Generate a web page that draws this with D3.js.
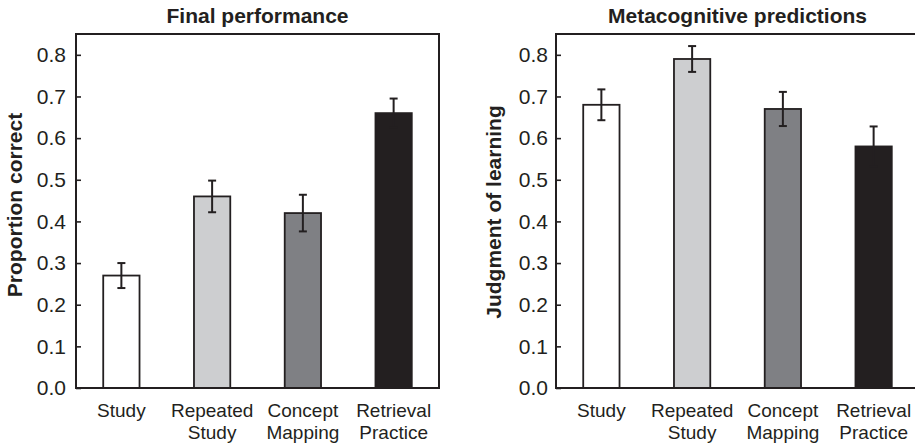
<!DOCTYPE html>
<html>
<head>
<meta charset="utf-8">
<script src="https://cdn.jsdelivr.net/npm/d3@7"></script>
<style>
  html, body { margin: 0; padding: 0; background: #fff; }
  svg { display: block; }
  text { font-family: "Liberation Sans", Arial, Helvetica, sans-serif; fill: #231f20; }
</style>
</head>
<body>
<svg id="chart" width="915" height="447"></svg>
<script>
const categories = ["Study", "Repeated Study", "Concept Mapping", "Retrieval Practice"];
const categoryLines = [["Study"], ["Repeated", "Study"], ["Concept", "Mapping"], ["Retrieval", "Practice"]];
const barColors = ["#ffffff", "#cdced0", "#7f8084", "#231f20"];
const yTicks = [0, 0.1, 0.2, 0.3, 0.4, 0.5, 0.6, 0.7, 0.8];

const finalValues = [0.27, 0.46, 0.42, 0.66];
const finalErrors = [0.03, 0.038, 0.044, 0.035];

const jolValues = [0.68, 0.79, 0.67, 0.58];
const jolErrors = [0.037, 0.031, 0.041, 0.048];

const panels = [
  { title: "Final performance", ylabel: "Proportion correct", values: finalValues, errors: finalErrors,
    left: 76, ylabelX: 22, ylabelY: 205, tickPad: 10, rightBorder: true },
  { title: "Metacognitive predictions", ylabel: "Judgment of learning", values: jolValues, errors: jolErrors,
    left: 556, ylabelX: 501, ylabelY: 212, tickPad: 8, rightBorder: false }
];

const svg = d3.select("#chart");
const plotTop = 34, plotBottom = 388, plotW = 363;
const ink = "#231f20";

const y = d3.scaleLinear().domain([0, 0.85]).range([plotBottom, plotTop]);

panels.forEach(p => {
  const g = svg.append("g");
  const x = d3.scaleBand().domain(categories).range([p.left, p.left + plotW])
    .paddingInner(0.6).paddingOuter(0.3);

  // bars
  g.selectAll("rect.bar").data(categories).join("rect")
    .attr("class", "bar")
    .attr("x", d => x(d))
    .attr("width", x.bandwidth())
    .attr("y", (d, i) => y(p.values[i]))
    .attr("height", (d, i) => y(0) - y(p.values[i]))
    .attr("fill", (d, i) => barColors[i])
    .attr("stroke", ink)
    .attr("stroke-width", 1.8);

  // error bars
  const eb = g.selectAll("g.err").data(categories).join("g").attr("class", "err");
  const cx = d => x(d) + x.bandwidth() / 2;
  eb.append("line")
    .attr("x1", cx).attr("x2", cx)
    .attr("y1", (d, i) => y(p.values[i] + p.errors[i]))
    .attr("y2", (d, i) => y(p.values[i] - p.errors[i]))
    .attr("stroke", ink).attr("stroke-width", 2);
  [1, -1].forEach(s => {
    eb.append("line")
      .attr("x1", d => cx(d) - 4).attr("x2", d => cx(d) + 4)
      .attr("y1", (d, i) => y(p.values[i] + s * p.errors[i]))
      .attr("y2", (d, i) => y(p.values[i] + s * p.errors[i]))
      .attr("stroke", ink).attr("stroke-width", 2);
  });

  // y axis
  const ya = g.append("g").attr("transform", `translate(${p.left},0)`)
    .call(d3.axisLeft(y).tickValues(yTicks).tickFormat(d3.format(".1f"))
      .tickSizeInner(-5).tickSizeOuter(0).tickPadding(p.tickPad));
  ya.select(".domain").remove();
  ya.selectAll(".tick line").attr("stroke", ink).attr("stroke-width", 1.6);
  ya.selectAll(".tick text").attr("font-size", 21).attr("font-family", null).style("fill", ink);

  // x axis (labels only)
  const xa = g.append("g").attr("transform", `translate(0,${plotBottom})`)
    .call(d3.axisBottom(x).tickSize(0).tickPadding(0).tickFormat(""));
  xa.select(".domain").remove();
  xa.selectAll(".tick").each(function(d, i) {
    const t = d3.select(this).append("text")
      .attr("text-anchor", "middle").attr("font-size", 19).style("fill", ink);
    categoryLines[i].forEach((ln, j) => {
      t.append("tspan").attr("x", 0).attr("y", 29 + j * 22).text(ln);
    });
  });

  // frame
  const fr = g.append("g").attr("fill", "none").attr("stroke", ink).attr("stroke-width", 2);
  fr.append("line").attr("x1", p.left).attr("x2", p.left).attr("y1", plotTop).attr("y2", plotBottom + 1);
  fr.append("line").attr("x1", p.left - 1).attr("x2", p.left + plotW + 1).attr("y1", plotBottom).attr("y2", plotBottom);
  fr.append("line").attr("x1", p.left - 1).attr("x2", p.left + plotW + 1).attr("y1", plotTop).attr("y2", plotTop);
  if (p.rightBorder) {
    fr.append("line").attr("x1", p.left + plotW).attr("x2", p.left + plotW).attr("y1", plotTop).attr("y2", plotBottom);
  }

  // title
  g.append("text").attr("x", p.left + plotW / 2).attr("y", 23)
    .attr("text-anchor", "middle").attr("font-size", 21).attr("font-weight", "bold")
    .text(p.title);

  // y label
  g.append("text")
    .attr("transform", `translate(${p.ylabelX},${p.ylabelY}) rotate(-90)`)
    .attr("text-anchor", "middle").attr("font-size", 21).attr("font-weight", "bold")
    .text(p.ylabel);
});
</script>
</body>
</html>
